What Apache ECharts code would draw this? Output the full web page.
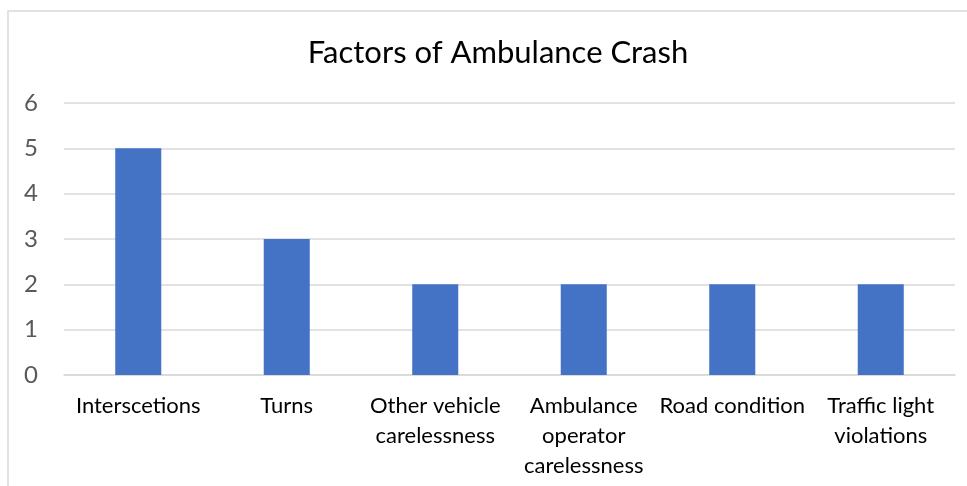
<!DOCTYPE html>
<html><head><meta charset="utf-8">
<script src="https://cdn.jsdelivr.net/npm/echarts@6/dist/echarts.min.js"></script>
<style>html,body{margin:0;padding:0;background:#fff}#c{width:967px;height:486px}</style>
</head><body><div id="c"></div>
<script>
const categories = ['Interscetions', 'Turns', 'Other vehicle\ncarelessness', 'Ambulance\noperator\ncarelessness', 'Road condition', 'Traffic light\nviolations'];
const values = [5, 3, 2, 2, 2, 2];
const yTicks = [0, 1, 2, 3, 4, 5, 6];
const titleText = 'Factors of Ambulance Crash';

const chart = echarts.init(document.getElementById('c'));
chart.setOption({
  animation: false,
  backgroundColor: '#fff',
  graphic: [{
    type: 'rect', shape: {x: 8, y: 11, width: 1000, height: 500},
    style: {fill: 'none', stroke: '#d9d9d9', lineWidth: 1.5}, silent: true, z: -1
  }],
  title: {
    text: titleText, left: 493, top: 32, textAlign: 'center',
    textStyle: {fontFamily: 'Lato', fontSize: 31, fontWeight: 'normal', color: '#000'}
  },
  grid: {left: 64, right: 12, top: 103, bottom: 111, containLabel: false},
  xAxis: {
    type: 'category', data: categories,
    axisLine: {lineStyle: {color: '#d9d9d9', width: 1.5}},
    axisTick: {show: false},
    axisLabel: {interval: 0, margin: 16, lineHeight: 30, fontFamily: 'Lato', fontSize: 22, color: '#000'}
  },
  yAxis: {
    type: 'value', min: yTicks[0], max: yTicks[yTicks.length - 1], interval: 1,
    axisLine: {show: false}, axisTick: {show: false},
    splitLine: {lineStyle: {color: '#d9d9d9', width: 1.5}},
    axisLabel: {margin: 26, fontFamily: 'Lato', fontSize: 24, color: '#595959'}
  },
  series: [{
    type: 'bar', data: values, barWidth: '31%',
    itemStyle: {color: '#4472c4'}
  }]
});
</script></body></html>
